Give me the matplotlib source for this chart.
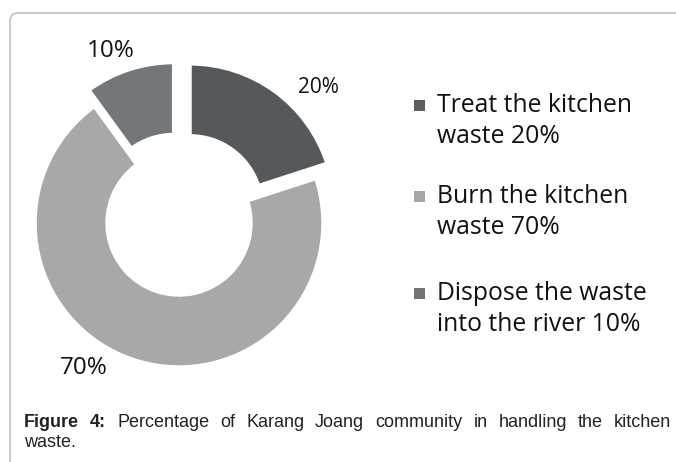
import matplotlib
matplotlib.use("Agg")
import matplotlib.pyplot as plt
from matplotlib.patches import FancyBboxPatch, Rectangle

# ---- data ----
categories = ["Treat the kitchen waste", "Burn the kitchen waste", "Dispose the waste into the river"]
values = [20, 70, 10]
legend_labels = ["Treat the kitchen\nwaste 20%", "Burn the kitchen\nwaste 70%", "Dispose the waste\ninto the river 10%"]
slice_colors = ["#56595c", "#a6a8aa", "#74777a"]
marker_colors = ["#5b5e61", "#a3a5a7", "#727477"]
caption_bold = "Figure 4:"
caption_rest = "Percentage of Karang Joang community in handling the kitchen waste."

W, H = 676, 462
fig = plt.figure(figsize=(W / 100, H / 100), dpi=100)
fig.patch.set_facecolor("white")

def fx(px):
    return px / W

def fy(py):
    return 1 - py / H

# ---- rounded frame ----
frame = FancyBboxPatch((0.10, -0.2), 6.80, 4.49 + 0.2,
                       boxstyle="round,pad=0,rounding_size=0.08",
                       transform=fig.dpi_scale_trans, facecolor="none",
                       edgecolor="#bbbbbb", linewidth=1.1)
fig.add_artist(frame)

# ---- donut ----
cx, cy, R = 179, 223, 144
L = 1.35
half = L * R
ax = fig.add_axes([fx(cx - half), fy(cy + half), (2 * half) / W, (2 * half) / H])
ax.pie(values, startangle=90, counterclock=False, radius=1,
       explode=[0.13, 0.0, 0.12], colors=slice_colors,
       wedgeprops=dict(width=0.5, edgecolor="white", linewidth=2.5))
ax.set_xlim(-L, L)
ax.set_ylim(-L, L)
ax.set_aspect("equal")
ax.axis("off")

# ---- percentage labels ----
lab_font = "Open Sans"
pct = [f"{v}%" for v in values]
fig.text(fx(298), fy(93), pct[0], fontsize=15, family=lab_font, color="#111111",
         ha="left", va="baseline",
         bbox=dict(facecolor="white", edgecolor="none", pad=3))
fig.text(fx(60), fy(374), pct[1], fontsize=17.5, family=lab_font, color="#111111",
         ha="left", va="baseline",
         bbox=dict(facecolor="white", edgecolor="none", pad=4))
fig.text(fx(87), fy(57), pct[2], fontsize=17.5, family=lab_font, color="#111111",
         ha="left", va="baseline",
         bbox=dict(facecolor="white", edgecolor="none", pad=3))

# ---- legend ----
leg_base = [112, 203, 300]
line_gap = 31
for lbl, col, b in zip(legend_labels, marker_colors, leg_base):
    fig.add_artist(Rectangle((fx(414), fy(b - 1)), 11 / W, 11 / H,
                             transform=fig.transFigure, facecolor=col,
                             edgecolor="none"))
    for i, line in enumerate(lbl.split("\n")):
        fig.text(fx(437), fy(b + i * line_gap), line, fontsize=17.8,
                 family=lab_font, color="#111111", ha="left", va="baseline")

# ---- caption (justified first line) ----
renderer = fig.canvas.get_renderer()
cap_font = "Liberation Sans"
reg_size = 13.0
bold_size = 13.0
x_left, x_right = 24, 671
words = caption_rest.split(" ")
first_words = words[:-1]
last_word = words[-1]
items = [(w_, "bold", bold_size) for w_ in caption_bold.split(" ")] + \
        [(w_, "normal", reg_size) for w_ in first_words]
widths = []
for t, wt, sz in items:
    tt = fig.text(0, 0, t, fontsize=sz, family=cap_font, fontweight=wt)
    widths.append(tt.get_window_extent(renderer).width)
    tt.remove()
gap = (x_right - x_left - sum(widths)) / (len(items) - 1)
x = x_left
for (t, wt, sz), wd in zip(items, widths):
    fig.text(fx(x), fy(427), t, fontsize=sz, family=cap_font,
             fontweight=wt, color="#222222", ha="left", va="baseline")
    x += wd + gap
fig.text(fx(24), fy(447), last_word, fontsize=reg_size, family=cap_font,
         color="#222222", ha="left", va="baseline")

fig.savefig("out.png", dpi=100, facecolor="white")
